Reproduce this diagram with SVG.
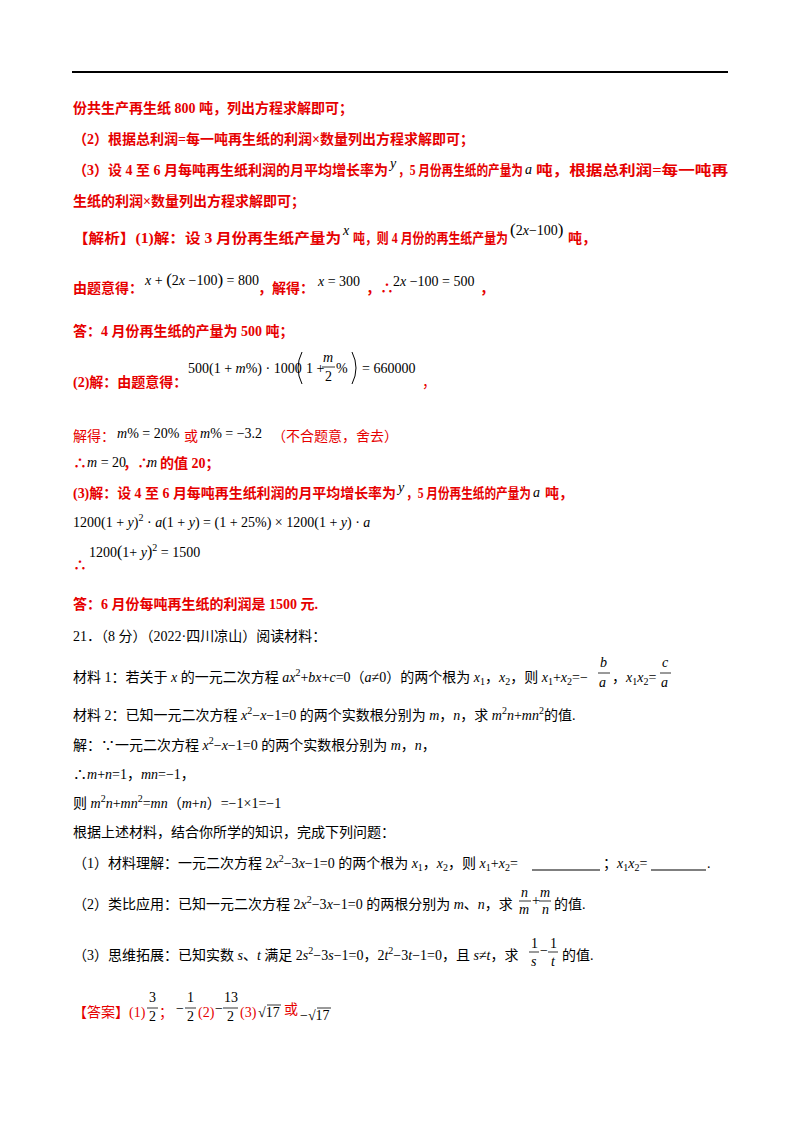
<svg xmlns="http://www.w3.org/2000/svg" width="800" height="1132" viewBox="0 0 800 1132">
<style>
text{font-family:"Liberation Serif","Noto Sans CJK SC",serif;font-size:14px;fill:#000}
.r{fill:#e60000;font-weight:bold}
.rn{fill:#e60000}
.m{font-family:"Liberation Serif",serif;font-size:14px}
.i{font-style:italic}
.s{font-size:10px}
.fl{stroke:#000;stroke-width:0.8}
</style>
<rect width="800" height="1132" fill="#fff"/>
<line x1="72" y1="72" x2="728" y2="72" stroke="#000" stroke-width="2"/>
<text class="r" x="73" y="113">份共生产再生纸 800 吨，列出方程求解即可；</text>
<text class="r" x="73" y="144">（2）根据总利润=每一吨再生纸的利润×数量列出方程求解即可；</text>
<text class="r" x="73" y="175" textLength="315" lengthAdjust="spacingAndGlyphs">（3）设 4 至 6 月每吨再生纸利润的月平均增长率为</text>
<text class="i m" x="390" y="168">y</text>
<text class="r" x="398" y="175" textLength="125" lengthAdjust="spacingAndGlyphs">，5 月份再生纸的产量为</text>
<text class="i m" x="525" y="174" font-size="16">a</text>
<text class="r" x="536" y="175" textLength="192" lengthAdjust="spacingAndGlyphs">吨，根据总利润=每一吨再</text>
<text class="r" x="73" y="206">生纸的利润×数量列出方程求解即可；</text>
<text class="r" x="73" y="243" textLength="268" lengthAdjust="spacingAndGlyphs">【解析】(1)解：设 3 月份再生纸产量为</text>
<text class="i m" x="343" y="235">x</text>
<text class="r" x="353" y="243" textLength="155" lengthAdjust="spacingAndGlyphs">吨，则 4 月份的再生纸产量为</text>
<text class="m" x="510" y="235"><tspan font-size="17">(</tspan>2<tspan class="i">x</tspan>−100<tspan font-size="17">)</tspan></text>
<text class="r" x="568" y="243">吨，</text>
<text class="r" x="73" y="293">由题意得：</text>
<text class="m" x="145" y="285"><tspan class="i">x</tspan> + <tspan font-size="17">(</tspan>2<tspan class="i">x</tspan> −100<tspan font-size="17">)</tspan> = 800</text>
<text class="r" x="258" y="293">，解得：</text>
<text class="m" x="318" y="286"><tspan class="i">x</tspan> = 300</text>
<text class="r" x="366" y="293">，∴</text>
<text class="m" x="393" y="286">2<tspan class="i">x</tspan> −100 = 500</text>
<text class="r" x="480" y="293">，</text>
<text class="r" x="73" y="336">答：4 月份再生纸的产量为 500 吨；</text>
<text class="r" x="73" y="387">(2)解：由题意得：</text>
<text class="m" x="188" y="373">500(1 + <tspan class="i">m</tspan>%) · 1000</text>
<path d="M302 352 Q294 368 302 384 M352 352 Q360 368 352 384" fill="none" stroke="#000" stroke-width="1"/>
<text class="m" x="306" y="373">1 +</text>
<text class="m i" x="323" y="362" font-size="12">m</text>
<line class="fl" x1="322" y1="367" x2="335" y2="367"/>
<text class="m" x="325" y="381" font-size="12">2</text>
<text class="m" x="336" y="373">%</text>
<text class="m" x="362" y="373">= 660000</text>
<text class="rn" x="422" y="387">，</text>
<text class="rn" x="73" y="441">解得：</text>
<text class="m" x="117" y="438"><tspan class="i">m</tspan>% = 20%</text>
<text class="rn" x="184" y="441">或</text>
<text class="m" x="200" y="438"><tspan class="i">m</tspan>% = −3.2</text>
<text class="rn" x="272" y="441">（不合题意，舍去）</text>
<text class="r" x="73" y="468">∴</text>
<text class="m" x="87" y="467"><tspan class="i">m</tspan> = 20</text>
<text class="r" x="123" y="468">，∴</text>
<text class="m i" x="147" y="467">m</text>
<text class="r" x="160" y="468">的值 20；</text>
<text class="r" x="73" y="498" textLength="323" lengthAdjust="spacingAndGlyphs">(3)解：设 4 至 6 月每吨再生纸利润的月平均增长率为</text>
<text class="i m" x="398" y="492">y</text>
<text class="r" x="406" y="498" textLength="125" lengthAdjust="spacingAndGlyphs">，5 月份再生纸的产量为</text>
<text class="i m" x="533" y="497" font-size="16">a</text>
<text class="r" x="545" y="498">吨，</text>
<text class="m" x="73" y="527">1200(1 + <tspan class="i">y</tspan>)<tspan class="s" dy="-6">2</tspan><tspan dy="6"> · </tspan><tspan class="i">a</tspan>(1 + <tspan class="i">y</tspan>) = (1 + 25%) × 1200(1 + <tspan class="i">y</tspan>) · <tspan class="i">a</tspan></text>
<text class="r" x="73" y="570">∴</text>
<text class="m" x="89" y="557">1200<tspan font-size="16">(</tspan>1+ <tspan class="i">y</tspan><tspan font-size="16">)</tspan><tspan class="s" dy="-6">2</tspan><tspan dy="6"> = 1500</tspan></text>
<text class="r" x="73" y="609">答：6 月份每吨再生纸的利润是 1500 元.</text>
<text x="73" y="641">21．（8 分）（2022·四川凉山）阅读材料：</text>
<text x="73" y="682">材料 1：若关于 <tspan class="i">x</tspan> 的一元二次方程 <tspan class="i">ax</tspan><tspan class="s" dy="-6">2</tspan><tspan dy="6">+</tspan><tspan class="i">bx</tspan>+<tspan class="i">c</tspan>=0（<tspan class="i">a</tspan>≠0）的两个根为 <tspan class="i">x</tspan><tspan class="s" dy="3">1</tspan><tspan dy="-3">，</tspan><tspan class="i">x</tspan><tspan class="s" dy="3">2</tspan><tspan dy="-3">，则 </tspan><tspan class="i">x</tspan><tspan class="s" dy="3">1</tspan><tspan dy="-3">+</tspan><tspan class="i">x</tspan><tspan class="s" dy="3">2</tspan><tspan dy="-3">=−</tspan></text>
<text class="i m" x="600" y="667">b</text>
<line class="fl" x1="598" y1="673" x2="610" y2="673"/>
<text class="i m" x="599" y="687">a</text>
<text x="612" y="682">，<tspan class="i">x</tspan><tspan class="s" dy="3">1</tspan><tspan class="i" dy="-3">x</tspan><tspan class="s" dy="3">2</tspan><tspan dy="-3">=</tspan></text>
<text class="i m" x="662" y="667">c</text>
<line class="fl" x1="660" y1="673" x2="671" y2="673"/>
<text class="i m" x="661" y="687">a</text>
<text x="73" y="720">材料 2：已知一元二次方程 <tspan class="i">x</tspan><tspan class="s" dy="-6">2</tspan><tspan dy="6">−</tspan><tspan class="i">x</tspan>−1=0 的两个实数根分别为 <tspan class="i">m</tspan>，<tspan class="i">n</tspan>，求 <tspan class="i">m</tspan><tspan class="s" dy="-6">2</tspan><tspan class="i" dy="6">n</tspan>+<tspan class="i">mn</tspan><tspan class="s" dy="-6">2</tspan><tspan dy="6">的值.</tspan></text>
<text x="73" y="750">解：∵一元二次方程 <tspan class="i">x</tspan><tspan class="s" dy="-6">2</tspan><tspan dy="6">−</tspan><tspan class="i">x</tspan>−1=0 的两个实数根分别为 <tspan class="i">m</tspan>，<tspan class="i">n</tspan>，</text>
<text x="73" y="779">∴<tspan class="i">m</tspan>+<tspan class="i">n</tspan>=1，<tspan class="i">mn</tspan>=−1，</text>
<text x="73" y="808">则 <tspan class="i">m</tspan><tspan class="s" dy="-6">2</tspan><tspan class="i" dy="6">n</tspan>+<tspan class="i">mn</tspan><tspan class="s" dy="-6">2</tspan><tspan dy="6">=</tspan><tspan class="i">mn</tspan>（<tspan class="i">m</tspan>+<tspan class="i">n</tspan>）=−1×1=−1</text>
<text x="73" y="837">根据上述材料，结合你所学的知识，完成下列问题：</text>
<text x="73" y="868">（1）材料理解：一元二次方程 2<tspan class="i">x</tspan><tspan class="s" dy="-6">2</tspan><tspan dy="6">−3</tspan><tspan class="i">x</tspan>−1=0 的两个根为 <tspan class="i">x</tspan><tspan class="s" dy="3">1</tspan><tspan dy="-3">，</tspan><tspan class="i">x</tspan><tspan class="s" dy="3">2</tspan><tspan dy="-3">，则 </tspan><tspan class="i">x</tspan><tspan class="s" dy="3">1</tspan><tspan dy="-3">+</tspan><tspan class="i">x</tspan><tspan class="s" dy="3">2</tspan><tspan dy="-3">=</tspan></text>
<line x1="532" y1="870" x2="600" y2="870" stroke="#000" stroke-width="1.2"/>
<text x="603" y="868">；<tspan class="i">x</tspan><tspan class="s" dy="3">1</tspan><tspan class="i" dy="-3">x</tspan><tspan class="s" dy="3">2</tspan><tspan dy="-3">=</tspan></text>
<line x1="651" y1="870" x2="706" y2="870" stroke="#000" stroke-width="1.2"/>
<text x="707" y="868">.</text>
<text x="73" y="909">（2）类比应用：已知一元二次方程 2<tspan class="i">x</tspan><tspan class="s" dy="-6">2</tspan><tspan dy="6">−3</tspan><tspan class="i">x</tspan>−1=0 的两根分别为 <tspan class="i">m</tspan>、<tspan class="i">n</tspan>，求</text>
<text class="i m" x="521" y="897" font-size="12">n</text>
<line class="fl" x1="519" y1="901" x2="531" y2="901"/>
<text class="i m" x="519" y="914" font-size="12">m</text>
<text x="532" y="905" font-size="11">+</text>
<text class="i m" x="540" y="897" font-size="12">m</text>
<line class="fl" x1="539" y1="901" x2="551" y2="901"/>
<text class="i m" x="542" y="914" font-size="12">n</text>
<text x="554" y="909">的值.</text>
<text x="73" y="960">（3）思维拓展：已知实数 <tspan class="i">s</tspan>、<tspan class="i">t</tspan> 满足 2<tspan class="i">s</tspan><tspan class="s" dy="-6">2</tspan><tspan dy="6">−3</tspan><tspan class="i">s</tspan>−1=0，2<tspan class="i">t</tspan><tspan class="s" dy="-6">2</tspan><tspan dy="6">−3</tspan><tspan class="i">t</tspan>−1=0，且 <tspan class="i">s</tspan>≠<tspan class="i">t</tspan>，求</text>
<text class="m" x="531" y="948" font-size="12">1</text>
<line class="fl" x1="529" y1="952" x2="539" y2="952"/>
<text class="i m" x="531" y="966" font-size="12">s</text>
<text x="540" y="955" font-size="12">−</text>
<text class="m" x="550" y="948" font-size="12">1</text>
<line class="fl" x1="548" y1="952" x2="558" y2="952"/>
<text class="i m" x="551" y="966" font-size="12">t</text>
<text x="562" y="960">的值.</text>
<text class="rn" x="73" y="1017">【答案】(1)</text>
<text class="m" x="149" y="1002" font-size="13">3</text>
<line class="fl" x1="147" y1="1008" x2="158" y2="1008"/>
<text class="m" x="149" y="1021" font-size="13">2</text>
<text class="rn" x="159" y="1017">；</text>
<text class="m" x="176" y="1013">−</text>
<text class="m" x="187" y="1002" font-size="13">1</text>
<line class="fl" x1="185" y1="1008" x2="196" y2="1008"/>
<text class="m" x="187" y="1021" font-size="13">2</text>
<text class="rn" x="198" y="1017">(2)</text>
<text class="m" x="215" y="1013">−</text>
<text class="m" x="224" y="1002" font-size="13">13</text>
<line class="fl" x1="223" y1="1008" x2="238" y2="1008"/>
<text class="m" x="227" y="1021" font-size="13">2</text>
<text class="rn" x="240" y="1017">(3)</text>
<text class="m" x="258" y="1017">√17</text>
<line class="fl" x1="267" y1="1005" x2="281" y2="1005"/>
<text class="rn" x="284" y="1014">或</text>
<text class="m" x="300" y="1020">−√17</text>
<line class="fl" x1="317" y1="1008" x2="331" y2="1008"/>
</svg>
